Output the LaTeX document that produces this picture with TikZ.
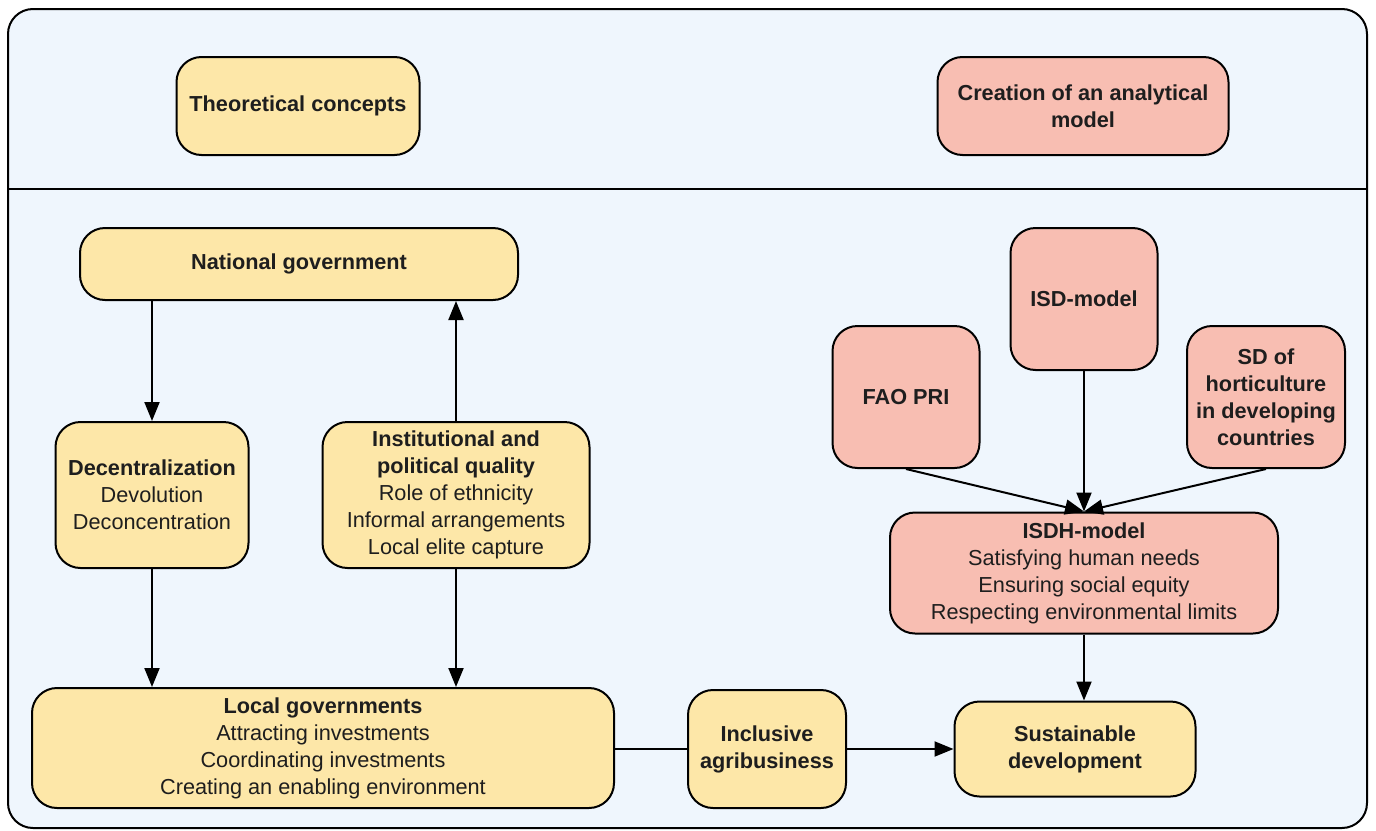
\documentclass[tikz,border=0pt]{standalone}
\usepackage{fontspec}
\setmainfont{Liberation Sans}
\usetikzlibrary{arrows.meta}
\definecolor{bgc}{RGB}{239,246,253}
\definecolor{yel}{RGB}{253,231,168}
\definecolor{pnk}{RGB}{248,190,178}
\definecolor{txt}{RGB}{30,30,30}
\tikzset{
  box/.style={draw=black, line width=2pt, rounded corners=25pt, align=center,
    inner sep=0pt, text=txt, font=\fontsize{21.7}{27}\selectfont},
  ybox/.style={box, fill=yel},
  pbox/.style={box, fill=pnk},
  arr/.style={line width=2pt, -{Triangle[length=19pt,width=15pt]}},
  ln/.style={line width=2pt},
}
\begin{document}
\begin{tikzpicture}[x=1pt,y=-1pt]
\useasboundingbox (0,0) rectangle (1376,830);
\draw[line width=2pt, fill=bgc, rounded corners=25pt] (8,9) rectangle (1367,828);
\coordinate (dl) at (8,189);
\coordinate (dr) at (1367,189);
\draw[line width=2pt] (dl) -- (dr);

\node[ybox, minimum width=243pt, minimum height=98pt] (theo) at (298,106) {\textbf{Theoretical concepts}};
\node[pbox, minimum width=291pt, minimum height=98pt] (crea) at (1083,106) {\textbf{Creation of an analytical}\\\textbf{model}};

\node[ybox, minimum width=438pt, minimum height=72pt] (nat) at (299,264) {\textbf{National government}};
\node[ybox, minimum width=193pt, minimum height=146pt] (dec) at (152,495) {\textbf{Decentralization}\\Devolution\\Deconcentration};
\node[ybox, minimum width=267pt, minimum height=146pt] (inst) at (456,495) {\textbf{Institutional and}\\\textbf{political quality}\\Role of ethnicity\\Informal arrangements\\Local elite capture};
\node[ybox, minimum width=582pt, minimum height=120pt] (loc) at (323,748) {\textbf{Local governments}\\Attracting investments\\Coordinating investments\\Creating an enabling environment};
\node[ybox, minimum width=158pt, minimum height=118pt] (agri) at (767,749) {\textbf{Inclusive}\\\textbf{agribusiness}};
\node[ybox, minimum width=241pt, minimum height=95pt] (sus) at (1075,749) {\textbf{Sustainable}\\\textbf{development}};

\node[pbox, minimum width=147pt, minimum height=142pt] (isd) at (1084,299) {\textbf{ISD-model}};
\node[pbox, minimum width=147pt, minimum height=142pt] (fao) at (906,397) {\textbf{FAO PRI}};
\node[pbox, minimum width=158pt, minimum height=142pt] (sdh) at (1266,397) {\textbf{SD of}\\\textbf{horticulture}\\\textbf{in developing}\\\textbf{countries}};
\node[pbox, minimum width=388pt, minimum height=121pt] (isdh) at (1084,573) {\textbf{ISDH-model}\\Satisfying human needs\\Ensuring social equity\\Respecting environmental limits};

\draw[arr] (nat.south -| dec) -- (dec.north);
\draw[arr] (inst.north) -- (inst.north |- nat.south);
\draw[arr] (dec.south) -- (dec.south |- loc.north);
\draw[arr] (inst.south) -- (inst.south |- loc.north);
\draw[ln] (loc.east |- agri) -- (agri.west);
\draw[arr] (agri.east) -- (agri.east -| sus.west);
\draw[arr] (isd.south) -- (isdh.north);
\draw[arr] (fao.south) -- (isdh.north);
\draw[arr] (sdh.south) -- (isdh.north);
\draw[arr] (isdh.south) -- (isdh.south |- sus.north);
\end{tikzpicture}
\end{document}
